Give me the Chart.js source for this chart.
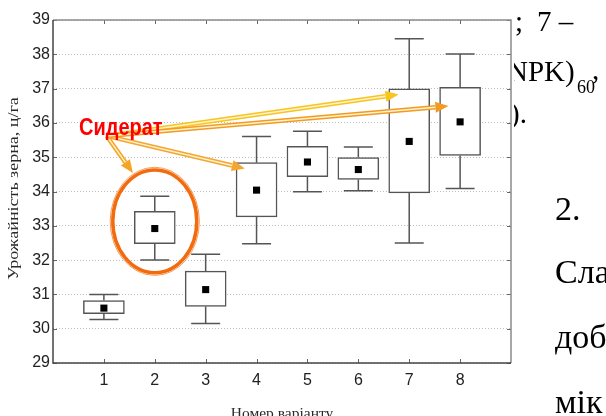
<!DOCTYPE html>
<html>
<head>
<meta charset="utf-8">
<script src="https://cdn.jsdelivr.net/npm/chart.js@4"></script>
<style>
html, body { margin: 0; padding: 0; background: #fff; }
#wrap { position: relative; width: 606px; height: 416px; }
</style>
</head>
<body>
<div id="wrap"><canvas id="c" width="606" height="416"></canvas></div>
<script>
// Варіанти досліду та статистика врожайності (ц/га)
const VARIANTS = [1, 2, 3, 4, 5, 6, 7, 8];
const MEANS    = [30.60, 32.92, 31.14, 34.04, 34.86, 34.64, 35.46, 36.03];
const BOX_LO   = [30.44, 32.48, 30.65, 33.26, 34.43, 34.35, 33.96, 35.05];
const BOX_HI   = [30.82, 33.42, 31.68, 34.84, 35.32, 34.99, 36.99, 37.04];
const WHISK_LO = [30.27, 32.00, 30.15, 32.48, 33.99, 34.02, 32.50, 34.09];
const WHISK_HI = [31.00, 33.86, 32.17, 35.60, 35.76, 35.30, 38.45, 38.01];

const Y_TITLE = 'Урожайність зерна, ц/га';
const X_TITLE = 'Номер варіанту';
const NOTE = 'Сидерат';

// анотація: звідки йдуть стрілки та куди (у координатах даних)
const NOTE_ORIGIN = [1.055, 35.62];
const ARROW_TIPS = [[1.57, 34.54], [3.77, 34.67], [6.79, 36.83], [7.77, 36.49]];
const ARROW_COLORS = ['#f5a524', '#f3a632', '#f8c41e', '#f29b22'];
const CAP = 0.285; // пів-ширина вусів

const boxData = VARIANTS.map((v, i) => ({ x: v, y: [BOX_LO[i], BOX_HI[i]] }));
const meanData = VARIANTS.map((v, i) => ({ x: v, y: MEANS[i] }));
const whiskData = [];
VARIANTS.forEach((v, i) => {
    whiskData.push({ x: v, y: WHISK_HI[i] }, { x: v, y: BOX_HI[i] }, { x: v, y: null });
    whiskData.push({ x: v, y: BOX_LO[i] }, { x: v, y: WHISK_LO[i] }, { x: v, y: null });
    whiskData.push({ x: v - CAP, y: WHISK_HI[i] }, { x: v + CAP, y: WHISK_HI[i] }, { x: v, y: null });
    whiskData.push({ x: v - CAP, y: WHISK_LO[i] }, { x: v + CAP, y: WHISK_LO[i] }, { x: v, y: null });
});

function arrow(ctx, x0, y0, x1, y1, color) {
    const ang = Math.atan2(y1 - y0, x1 - x0);
    const head = 13, hw = 5.5;
    const bx = x1 - head * Math.cos(ang), by = y1 - head * Math.sin(ang);
    ctx.lineCap = 'butt';
    ctx.strokeStyle = color; ctx.lineWidth = 4.5;
    ctx.beginPath(); ctx.moveTo(x0, y0); ctx.lineTo(bx, by); ctx.stroke();
    ctx.strokeStyle = '#fff4cf'; ctx.lineWidth = 1.4;
    ctx.beginPath(); ctx.moveTo(x0, y0); ctx.lineTo(bx, by); ctx.stroke();
    ctx.fillStyle = color;
    ctx.beginPath();
    ctx.moveTo(x1, y1);
    ctx.lineTo(bx + hw * Math.sin(ang), by - hw * Math.cos(ang));
    ctx.lineTo(bx - hw * Math.sin(ang), by + hw * Math.cos(ang));
    ctx.closePath(); ctx.fill();
}

const frame = {
    id: 'frame',
    beforeDatasetsDraw(chart) {
        const { ctx, chartArea: a, scales: { x, y } } = chart;
        ctx.save();
        ctx.lineWidth = 1;
        ctx.strokeStyle = '#666';
        ctx.beginPath();
        VARIANTS.forEach(v => {
            const px = Math.round(x.getPixelForValue(v)) + 0.5;
            ctx.moveTo(px, a.top); ctx.lineTo(px, a.top + 4);
            ctx.moveTo(px, a.bottom); ctx.lineTo(px, a.bottom - 4);
        });
        y.ticks.forEach(t => {
            const py = Math.round(y.getPixelForValue(t.value)) + 0.5;
            ctx.moveTo(a.left, py); ctx.lineTo(a.left + 4, py);
            ctx.moveTo(a.right, py); ctx.lineTo(a.right - 4, py);
        });
        ctx.stroke();
        ctx.lineWidth = 1.5;
        ctx.strokeStyle = '#8a8a8a';
        ctx.beginPath();
        ctx.moveTo(a.left, a.top); ctx.lineTo(a.right, a.top); ctx.lineTo(a.right, a.bottom);
        ctx.stroke();
        ctx.strokeStyle = '#444';
        ctx.beginPath();
        ctx.moveTo(a.left, a.top); ctx.lineTo(a.left, a.bottom); ctx.lineTo(a.right, a.bottom);
        ctx.stroke();
        // підпис осі Y (розтягнутий, як у вихідному зображенні)
        ctx.fillStyle = '#2a2a2a';
        ctx.font = '15px "Liberation Serif", "Times New Roman", serif';
        ctx.textAlign = 'center';
        ctx.textBaseline = 'middle';
        ctx.translate(14, (a.top + a.bottom) / 2 - 3);
        ctx.rotate(-Math.PI / 2);
        ctx.scale(1.2, 1);
        ctx.fillText(Y_TITLE, 0, 0);
        ctx.restore();
    }
};

const annot = {
    id: 'annot',
    afterDatasetsDraw(chart) {
        const { ctx, scales: { x, y } } = chart;
        ctx.save();
        // еліпс навколо варіанту 2
        const cx = x.getPixelForValue(2), cy = y.getPixelForValue(33.13);
        const rx = x.getPixelForValue(2.825) - cx, ry = cy - y.getPixelForValue(34.63);
        ctx.strokeStyle = '#f26b0f'; ctx.lineWidth = 3.5;
        ctx.beginPath(); ctx.ellipse(cx, cy, rx, ry, 0, 0, Math.PI * 2); ctx.stroke();
        ctx.strokeStyle = '#f59a55'; ctx.lineWidth = 1;
        ctx.beginPath(); ctx.ellipse(cx, cy, rx + 2.6, ry + 2.6, 0, 0, Math.PI * 2); ctx.stroke();
        // стрілки
        const ox = x.getPixelForValue(NOTE_ORIGIN[0]), oy = y.getPixelForValue(NOTE_ORIGIN[1]);
        ARROW_TIPS.forEach((t, i) => {
            arrow(ctx, ox, oy, x.getPixelForValue(t[0]), y.getPixelForValue(t[1]), ARROW_COLORS[i]);
        });
        // напис
        ctx.fillStyle = '#ff0000';
        ctx.font = 'bold 20px "Liberation Sans", Arial, sans-serif';
        ctx.textBaseline = 'alphabetic';
        ctx.translate(x.getPixelForValue(0.51), y.getPixelForValue(35.64));
        ctx.scale(1, 1.18);
        ctx.fillText(NOTE, 0, 0);
        ctx.restore();
    }
};

// текст документа, що виглядає з-під діаграми праворуч
const docText = {
    id: 'docText',
    afterDraw(chart) {
        const ctx = chart.ctx;
        ctx.save();
        ctx.beginPath(); ctx.rect(514, 0, 92, 416); ctx.clip();
        ctx.fillStyle = '#000';
        ctx.textBaseline = 'alphabetic';
        ctx.font = '29px "Liberation Serif", "Times New Roman", serif';
        ctx.fillText(';', 515, 31);
        ctx.fillText('7 –', 537, 31);
        ctx.fillText('NPK)', 507, 81);
        ctx.fillText(',', 592, 79);
        ctx.fillText(').', 510, 123);
        ctx.font = '18px "Liberation Serif", "Times New Roman", serif';
        ctx.fillText('60', 577, 93);
        ctx.font = '34px "Liberation Serif", "Times New Roman", serif';
        ctx.fillText('2.', 555, 220);
        ctx.fillText('Сла', 555, 283);
        ctx.fillText('доб', 555, 348);
        ctx.fillText('мік', 555, 413);
        ctx.restore();
    }
};

new Chart(document.getElementById('c'), {
    type: 'bar',
    data: {
        datasets: [
            { type: 'scatter', data: meanData, pointStyle: 'rect', pointRadius: 5,
              backgroundColor: '#000', borderColor: '#000', borderWidth: 0, order: 0 },
            { type: 'line', data: whiskData, borderColor: '#555', borderWidth: 1.5,
              pointRadius: 0, spanGaps: false, tension: 0, order: 1 },
            { type: 'bar', data: boxData, backgroundColor: '#fff', borderColor: '#555',
              borderWidth: 1.5, borderSkipped: false, barThickness: 41, order: 2 }
        ]
    },
    options: {
        responsive: false,
        animation: false,
        events: [],
        layout: { padding: { top: 20, right: 95, left: 0, bottom: 0 } },
        plugins: { legend: { display: false }, tooltip: { enabled: false } },
        scales: {
            x: {
                type: 'linear', min: 0, max: 9, offset: false,
                afterFit: s => { s.height = 53; },
                grid: { display: false, drawTicks: false },
                border: { display: false },
                ticks: {
                    stepSize: 1, padding: 8, color: '#222', autoSkip: false,
                    font: { family: '"Liberation Sans", Arial, sans-serif', size: 16 },
                    callback: v => (VARIANTS.includes(v) ? String(v) : '')
                },
                title: {
                    display: true, text: X_TITLE, color: '#2a2a2a',
                    padding: { top: 0, bottom: 0 },
                    font: { family: '"Liberation Serif", "Times New Roman", serif', size: 15.5, lineHeight: 0.3 }
                }
            },
            y: {
                min: 29, max: 39,
                afterFit: s => { s.width = 53; },
                grid: { color: '#bdbdbd', lineWidth: 1, drawTicks: false },
                border: { display: false, dash: [1, 2] },
                ticks: {
                    stepSize: 1, padding: 3, color: '#222', autoSkip: false,
                    font: { family: '"Liberation Sans", Arial, sans-serif', size: 16 }
                }
            }
        }
    },
    plugins: [frame, annot, docText]
});
</script>
</body>
</html>
